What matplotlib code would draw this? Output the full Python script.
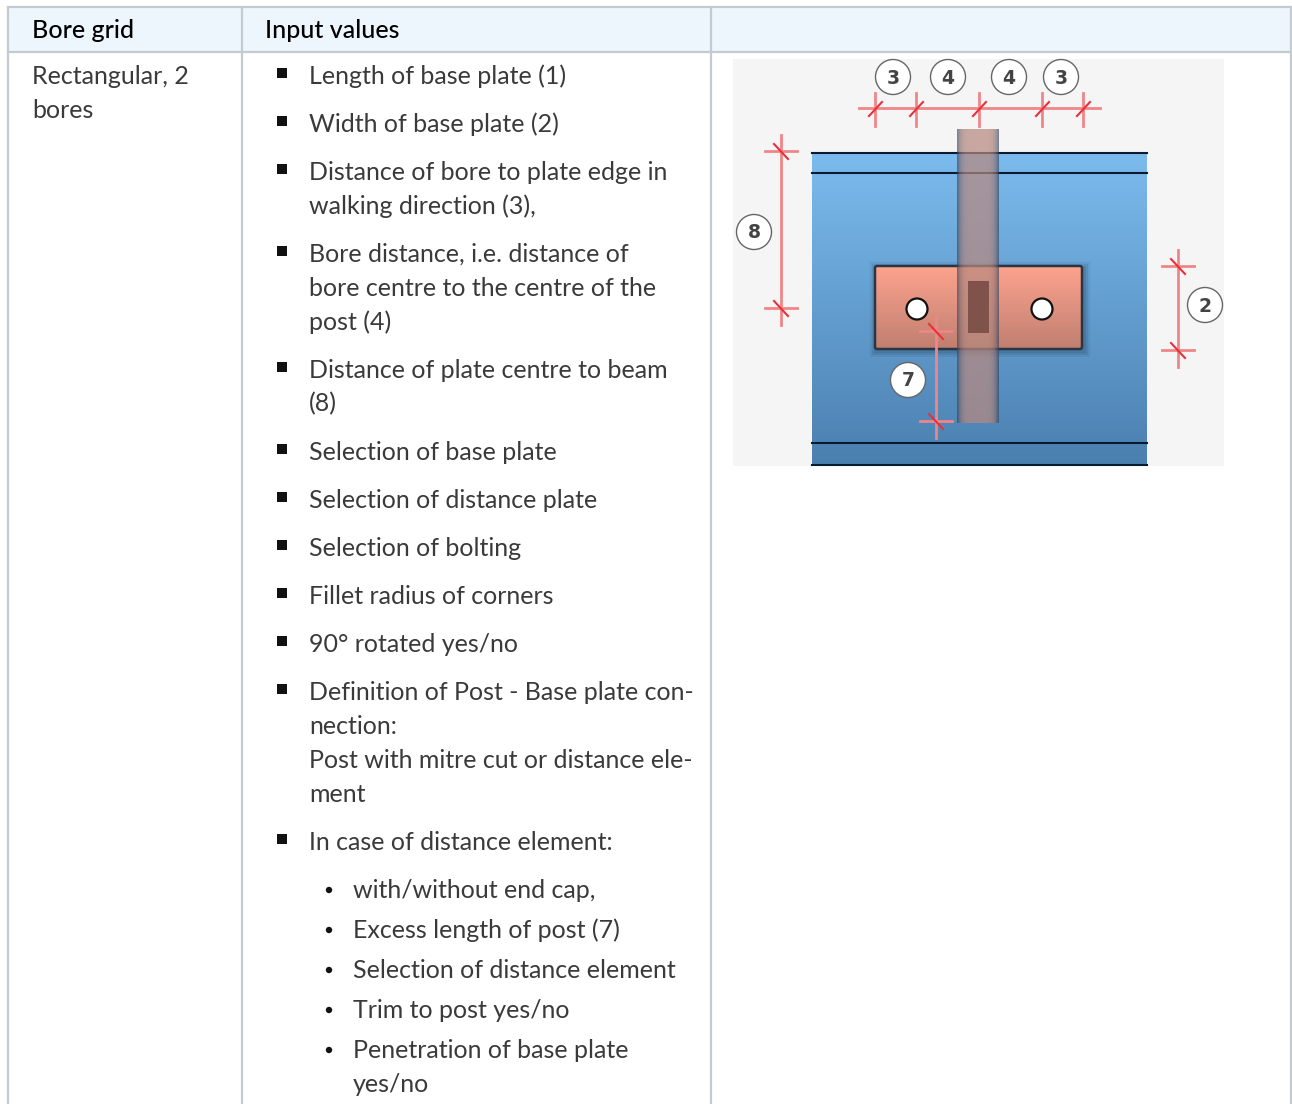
import numpy as np
import matplotlib
matplotlib.use('Agg')
import matplotlib.pyplot as plt
from matplotlib.patches import Rectangle, Circle, FancyBboxPatch

header = ['Bore grid', 'Input values']
first_col = ['Rectangular, 2', 'bores']
items = [
    ['Length of base plate (1)'],
    ['Width of base plate (2)'],
    ['Distance of bore to plate edge in', 'walking direction (3),'],
    ['Bore distance, i.e. distance of', 'bore centre to the centre of the', 'post (4)'],
    ['Distance of plate centre to beam', '(8)'],
    ['Selection of base plate'],
    ['Selection of distance plate'],
    ['Selection of bolting'],
    ['Fillet radius of corners'],
    ['90° rotated yes/no'],
    ['Definition of Post - Base plate con-', 'nection:', 'Post with mitre cut or distance ele-', 'ment'],
    ['In case of distance element:'],
]
sub_items = [
    ['with/without end cap,'],
    ['Excess length of post (7)'],
    ['Selection of distance element'],
    ['Trim to post yes/no'],
    ['Penetration of base plate', 'yes/no'],
]
top_dims = [875, 916, 979, 1042, 1083]
top_labels = [('3', 893), ('4', 948), ('4', 1009), ('3', 1061)]
side_dims = [(781, 151, 308, 135, 325), (1178, 266, 350, 250, 367), (936, 331, 421, 316, 438)]
side_labels = [('8', 754, 232), ('2', 1205, 305), ('7', 908, 380)]
beam_lines = [152.5, 173, 443, 465]
holes = [917, 1042]

FONT = 'Lato'
SIZE = 18.0
GRID = '#c3cbd0'
RED = '#f08588'
TXT = '#3a3a3a'

fig = plt.figure(figsize=(12.92, 11.04), dpi=100)
ax = fig.add_axes([0, 0, 1, 1])
ax.set_xlim(0, 1292)
ax.set_ylim(1104, 0)
ax.axis('off')


def gradient(x0, x1, y0, y1, c0, c1, z):
    c0 = np.array(matplotlib.colors.to_rgb(c0))
    c1 = np.array(matplotlib.colors.to_rgb(c1))
    t = np.linspace(0, 1, 64)[:, None, None]
    img = c0[None, None, :] * (1 - t) + c1[None, None, :] * t
    ax.imshow(img, extent=(x0, x1, y1, y0), aspect='auto', zorder=z, interpolation='bilinear')


# table
ax.add_patch(Rectangle((8, 7), 1283, 45, fc='#eef6fd', ec='none', zorder=1))
ax.plot([8, 1291], [7, 7], color=GRID, lw=1.6, zorder=2)
ax.plot([8, 1291], [52, 52], color=GRID, lw=1.6, zorder=2)
for x in [8, 242, 711, 1291]:
    ax.plot([x, x], [7, 1104], color=GRID, lw=1.6, zorder=2)

ax.text(32, 30, header[0], family=FONT, fontsize=SIZE, color='#000000', va='center', weight='medium')
ax.text(265, 30, header[1], family=FONT, fontsize=SIZE, color='#000000', va='center', weight='medium')
for i, s in enumerate(first_col):
    ax.text(32, 76 + i * 34, s, family=FONT, fontsize=SIZE, color=TXT, va='center')

# bullet lists, line pitch 34 with a gap between items
y = 75
for it in items:
    ax.add_patch(Rectangle((277, y - 7), 10, 10, fc='#111111', ec='none', zorder=3))
    for j, s in enumerate(it):
        ax.text(309, y + 1 + j * 34, s, family=FONT, fontsize=SIZE, color=TXT, va='center')
    y += len(it) * 34 + 14
for it in sub_items:
    ax.add_patch(Circle((329, y + 1), 3.2, fc='#111111', ec='none', zorder=3))
    for j, s in enumerate(it):
        ax.text(353, y + 1 + j * 34, s, family=FONT, fontsize=SIZE, color=TXT, va='center')
    y += len(it) * 34 + 6

# diagram
ax.add_patch(Rectangle((733, 59), 491, 407, fc='#f5f5f5', ec='none', zorder=3))
gradient(812, 1147, 152, 466, '#7cbbee', '#4a80b0', 4)
for yy in beam_lines:
    ax.plot([812, 1147], [yy, yy], color='#0a1a30', lw=1.5, zorder=5)

# soft shadow, plate, post
for grow, a in [(6, 0.07), (4, 0.09), (2, 0.12)]:
    ax.add_patch(Rectangle((876 - grow, 268 - grow), 208 + 2 * grow, 83 + 2 * grow,
                           fc='#10202e', ec='none', alpha=a, zorder=5))
gradient(875, 1082, 266, 349, '#fda38e', '#c07f70', 6)
ax.add_patch(FancyBboxPatch((875, 266), 207, 83, boxstyle='round,pad=0,rounding_size=2',
                            fc='none', ec='#2a3642', lw=1.8, zorder=7))
for hx in holes:
    ax.add_patch(Circle((hx, 309), 10.5, fc='white', ec='#111111', lw=1.6, zorder=7))

# post: translucent with darker soft edges, horizontal profile
edge = np.array([0.22, 0.27, 0.36, 0.65])
mid = np.array([0.72, 0.54, 0.50, 0.72])
prof = np.abs(np.linspace(-1, 1, 40)) ** 6
post = (mid[None, :] * (1 - prof[:, None]) + edge[None, :] * prof[:, None])[None, :, :]
ax.imshow(post, extent=(957, 999, 423, 129), aspect='auto', zorder=8, interpolation='bilinear')
ax.add_patch(Rectangle((968, 281), 21, 52, fc='#7c4f48', ec='none', alpha=0.95, zorder=9))

# dimension marks
ax.plot([859, 1100], [108, 108], color=RED, lw=2.0, zorder=10)
for x in top_dims:
    ax.plot([x, x], [93, 126], color=RED, lw=2.0, zorder=10)
    ax.plot([x - 6, x + 7], [116, 102], color='#e8303a', lw=1.5, zorder=10)
for x, y0, y1, ya, yb in side_dims:
    ax.plot([x, x], [ya, yb], color=RED, lw=2.0, zorder=10)
    for yy in (y0, y1):
        ax.plot([x - 16, x + 16], [yy, yy], color=RED, lw=2.0, zorder=10)
        ax.plot([x - 7, x + 7], [yy - 7, yy + 8], color='#e8303a', lw=1.5, zorder=10)


def badge(s, x, yy):
    ax.add_patch(Circle((x, yy), 17.5, fc='white', ec='#666666', lw=1.0, zorder=11))
    ax.text(x, yy + 1, s, family='DejaVu Sans', fontsize=13.5, weight='bold', color='#444444',
            ha='center', va='center', zorder=12)


for s, x in top_labels:
    badge(s, x, 77)
for s, x, yy in side_labels:
    badge(s, x, yy)

ax.set_xlim(0, 1292)
ax.set_ylim(1104, 0)
fig.savefig('out.png', dpi=100, facecolor='white')
